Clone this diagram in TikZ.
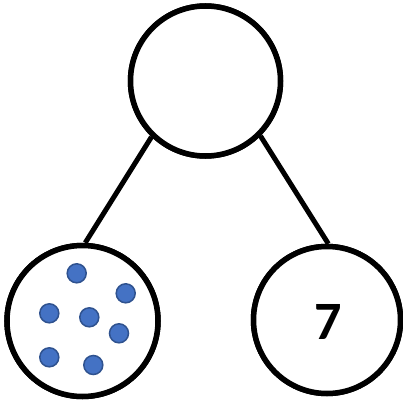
\documentclass[tikz,border=0pt]{standalone}
\usepackage{fontspec}
\setmainfont{Carlito}
\definecolor{dotfill}{HTML}{4472C4}
\definecolor{dotedge}{HTML}{2F528F}
\begin{document}
\begin{tikzpicture}[x=1pt,y=-1pt,
  bigcirc/.style={circle,draw=black,line width=5.5pt,fill=white,inner sep=0pt},
  link/.style={draw=black,line width=5pt},
  dot/.style={circle,fill=dotfill,draw=dotedge,line width=1.5pt,minimum size=19pt,inner sep=0pt}]
\useasboundingbox (0,0) rectangle (403,404);
\node[bigcirc,minimum size=150pt] (top) at (205.5,81) {};
\node[bigcirc,minimum size=151pt] (left) at (82.5,321) {};
\node[bigcirc,minimum size=147pt] (right) at (327,320) {};
\draw[link] (top.226) -- (left.88);
\draw[link] (top.315) -- (right.89);
\node[bigcirc,minimum size=150pt] at (top) {};
\node[bigcirc,minimum size=151pt] at (left) {};
\node[bigcirc,minimum size=147pt] at (right) {};
\node[font=\bfseries\fontsize{54}{54}\selectfont] (seven) at (328,322) {7};
\node[dot] (d1) at (76.7,273.3) {};
\node[dot] (d2) at (125.7,293.3) {};
\node[dot] (d3) at (49.3,313.3) {};
\node[dot] (d4) at (89.3,317.3) {};
\node[dot] (d5) at (119,333.3) {};
\node[dot] (d6) at (49.3,357.3) {};
\node[dot] (d7) at (93.3,365) {};
\end{tikzpicture}
\end{document}
